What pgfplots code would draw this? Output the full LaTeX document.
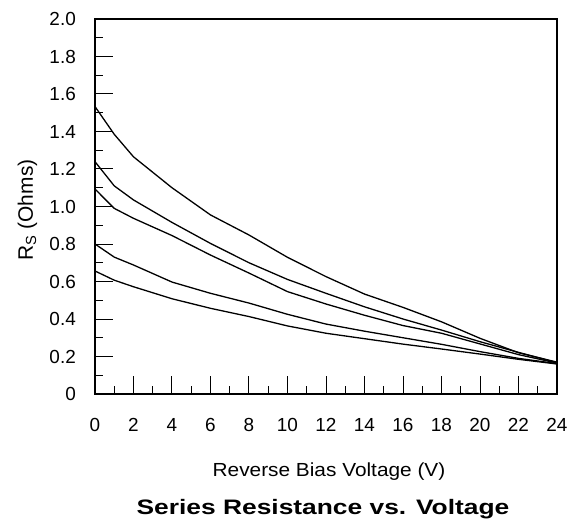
\documentclass[border=0pt]{standalone}
\usepackage{pgfplots}
\pgfplotsset{compat=1.18}
\usepackage{fontspec}
\setmainfont{Liberation Sans}
\usepackage{graphicx}

\begin{document}
\begin{tikzpicture}
\useasboundingbox (-95bp,-126bp) rectangle (478bp,394bp);
\begin{axis}[
  at={(0,0)}, anchor=south west,
  scale only axis, width=462bp, height=375bp,
  xmin=0, xmax=24, ymin=0, ymax=2,
  xtick={0,2,4,6,8,10,12,14,16,18,20,22,24},
  xticklabels={0,2,4,6,8,10,12,14,16,18,20,22,24},
  ytick={0,0.2,0.4,0.6,0.8,1.0,1.2,1.4,1.6,1.8,2.0},
  yticklabels={0,0.2,0.4,0.6,0.8,1.0,1.2,1.4,1.6,1.8,2.0},
  minor x tick num=1, minor y tick num=1,
  tick align=inside, tick pos=left,
  major tick length=18bp, minor tick length=8bp,
  tick style={black, line width=1bp},
  axis line style={line width=1.2bp},
  /pgf/number format/assume math mode=true,
  ticklabel style={font=\fontsize{19}{22}\selectfont},
  yticklabel style={anchor=east, inner sep=0pt, xshift=-19bp},
  xticklabel style={anchor=north, inner sep=0pt, yshift=-24bp},
]
\addplot[black, line width=1.3bp, mark=none] coordinates {(0,1.533) (1,1.385) (2,1.265) (4,1.10) (6,0.955) (8,0.848) (10,0.729) (12,0.626) (14,0.533) (16,0.462) (18,0.385) (20,0.297) (22,0.22) (24,0.17)};
\addplot[black, line width=1.3bp, mark=none] coordinates {(0,1.239) (1,1.11) (2,1.035) (4,0.915) (6,0.803) (8,0.70) (10,0.611) (12,0.537) (14,0.465) (16,0.40) (18,0.341) (20,0.279) (22,0.222) (24,0.167)};
\addplot[black, line width=1.3bp, mark=none] coordinates {(0,1.093) (1,0.99) (2,0.937) (4,0.845) (6,0.741) (8,0.645) (10,0.546) (12,0.48) (14,0.42) (16,0.365) (18,0.324) (20,0.267) (22,0.21) (24,0.165)};
\addplot[black, line width=1.3bp, mark=none] coordinates {(0,0.80) (1,0.73) (2,0.688) (4,0.597) (6,0.537) (8,0.485) (10,0.425) (12,0.373) (14,0.335) (16,0.30) (18,0.265) (20,0.226) (22,0.19) (24,0.162)};
\addplot[black, line width=1.3bp, mark=none] coordinates {(0,0.656) (1,0.607) (2,0.572) (4,0.508) (6,0.457) (8,0.413) (10,0.363) (12,0.324) (14,0.295) (16,0.266) (18,0.24) (20,0.213) (22,0.185) (24,0.16)};
\end{axis}
\node[anchor=base, font=\fontsize{19}{22}\selectfont] at (234bp,-82bp) {\scalebox{1.1}[1]{Reverse Bias Voltage (V)}};
\node[anchor=base, font=\bfseries\fontsize{21}{25}\selectfont] at (228bp,-120bp) {\scalebox{1.26}[1]{Series Resistance vs. Voltage}};
\node[rotate=90, anchor=base, font=\fontsize{21}{25}\selectfont] at (-62bp,184bp) {R\textsubscript{S} (Ohms)};
\end{tikzpicture}
\end{document}
